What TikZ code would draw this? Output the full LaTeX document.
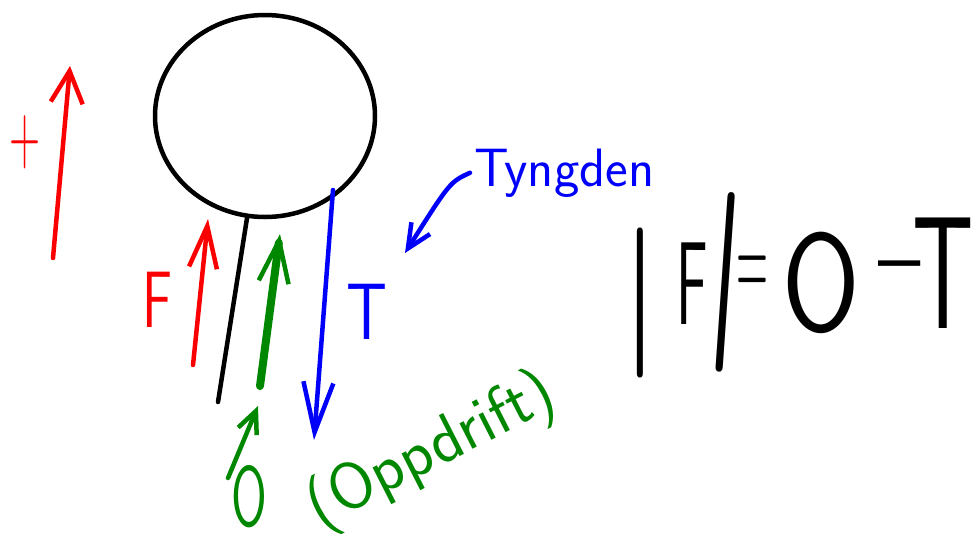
\documentclass[tikz,border=0pt]{standalone}
\usepackage{xcolor}
\usepackage{graphicx}
\usepackage{tikz}
\usetikzlibrary{arrows.meta,shapes.geometric}

\definecolor{penred}{RGB}{250,0,0}
\definecolor{penblue}{RGB}{0,0,250}
\definecolor{pengreen}{RGB}{0,135,0}

\newcommand{\pensize}[1]{\fontsize{#1}{#1}\selectfont}
\newcommand{\narrowtext}[3]{\scalebox{#1}[1]{\pensize{#2}#3}}

\tikzset{
  pen/.style={line width=4.5pt, line cap=round, line join=round},
  hand/.style={inner sep=0pt, font=\sffamily},
  barb/.style n args={2}{-{Straight Barb[length=#1, width=#2, line width=4.5pt]}},
}

\begin{document}
\begin{tikzpicture}[x=1pt, y=-1pt, pen]
  \useasboundingbox (0,0) rectangle (972,542);

  \node [draw, ellipse, inner sep=0pt, minimum width=220pt, minimum height=202pt] (ball) at (265,116) {};
  \coordinate (stringEnd) at (218,402);
  \draw (ball.260) -- (stringEnd);

  \coordinate (plusTail) at (53,258);
  \coordinate (plusHead) at (70,66);
  \node [hand, penred] (plus) at (25,142) {\narrowtext{0.5}{85}{+}};
  \draw [penred, barb={32pt}{32pt}] (plusTail) -- (plusHead);

  \coordinate (fTail) at (193,365);
  \coordinate (fHead) at (208,219);
  \node [hand, penred] (fLabel) at (157,300) {\narrowtext{0.7}{80}{F}};
  \draw [penred, barb={42pt}{28pt}] (fTail) -- (fHead);

  \coordinate (oTail) at (260,386);
  \coordinate (oHead) at (280,234);
  \draw [pengreen, line width=8pt, barb={42pt}{30pt}] (oTail) -- (oHead);

  \coordinate (tTail) at (333,190);
  \coordinate (tHead) at (314,440);
  \node [hand, penblue] (tLabel) at (367,312) {\narrowtext{0.8}{80}{T}};
  \draw [penblue, barb={50pt}{30pt}] (tTail) -- (tHead);

  \node [hand, penblue, anchor=base west] (tyngden) at (472,186) {\pensize{54}Tyngden};
  \coordinate (tyEnd) at (405,253);
  \draw [penblue, barb={24pt}{22pt}] ([xshift=-2pt]tyngden.west) .. controls (450,182) .. (tyEnd);

  \coordinate (oSmallTail) at (228,478);
  \coordinate (oSmallHead) at (258,406);
  \node [hand, pengreen] (oLabel) at (249,497) {\narrowtext{0.6}{86}{O}};
  \draw [pengreen, barb={22pt}{20pt}] (oSmallTail) -- (oSmallHead);
  \node [hand, pengreen, rotate=27] (oppdrift) at (432,452) {\pensize{66}(Oppdrift)};

  \node [hand] (eqBarL) at (640,303) {\pensize{150}|};
  \node [hand] (eqF) at (692,284) {\narrowtext{0.5}{118}{F}};
  \node [hand, rotate=-4] (eqBarR) at (726,282) {\pensize{180}|};
  \node [hand] (eqEquals) at (752,278) {\narrowtext{0.35}{125}{=}};
  \node [hand] (eqO) at (821,283) {\narrowtext{0.8}{140}{O}};
  \node [hand] (eqMinus) at (900,274) {\pensize{90}\textendash};
  \node [hand] (eqT) at (943,273) {\narrowtext{0.6}{160}{T}};
\end{tikzpicture}
\end{document}
